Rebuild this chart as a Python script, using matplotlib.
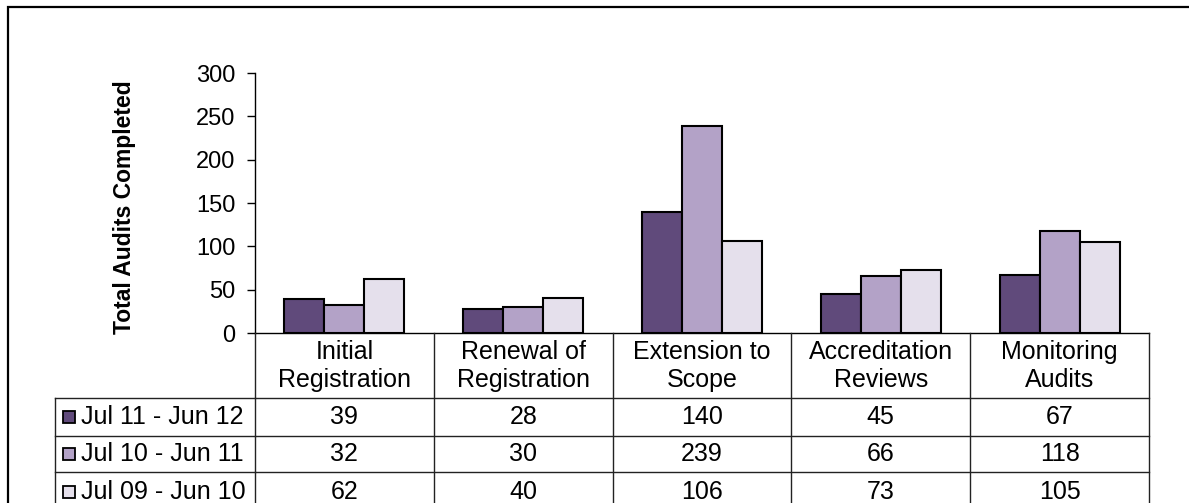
import matplotlib.pyplot as plt
import matplotlib.transforms as mtransforms
from matplotlib.patches import Rectangle
from matplotlib.lines import Line2D
import numpy as np

# ── data ────────────────────────────────────────────────
categories = ["Initial\nRegistration", "Renewal of\nRegistration", "Extension to\nScope",
              "Accreditation\nReviews", "Monitoring\nAudits"]
series_names = ["Jul 11 - Jun 12", "Jul 10 - Jun 11", "Jul 09 - Jun 10"]
jul11_jun12 = [39, 28, 140, 45, 67]
jul10_jun11 = [32, 30, 239, 66, 118]
jul09_jun10 = [62, 40, 106, 73, 105]
series_values = [jul11_jun12, jul10_jun11, jul09_jun10]
colors = ["#604A7B", "#B3A2C7", "#E5E0EC"]
y_ticks = [0, 50, 100, 150, 200, 250, 300]

plt.rcParams["font.family"] = ["Liberation Sans", "DejaVu Sans"]
FS = 17      # axis ticks
TFS = 18     # table text

W, H = 1189, 503
fig = plt.figure(figsize=(W / 100, H / 100), dpi=100)


def fx(p):
    return p / W


def fy(p):
    return 1 - p / H


# outer frame (chart area border)
fig.patches.append(Rectangle((fx(8), -0.1), 1.2, fy(7) + 0.1, transform=fig.transFigure,
                             fill=False, edgecolor="black", linewidth=1.6))

ax = fig.add_axes([fx(255), fy(333), fx(1149) - fx(255), fy(73) - fy(333)])
n = len(categories)
x = np.arange(n)
bw = 40 / 178.8
for k, (vals, col) in enumerate(zip(series_values, colors)):
    ax.bar(x + (k - 1) * bw, vals, width=bw, color=col, edgecolor="black", linewidth=1.5)

ax.set_xlim(-0.5, n - 0.5)
ax.set_ylim(0, 300)
ax.set_yticks(y_ticks)
ax.tick_params(axis="y", direction="out", length=6, width=1, labelsize=FS, pad=8)
ax.set_xticks([])
ax.spines["top"].set_visible(False)
ax.spines["right"].set_visible(False)
ax.spines["left"].set_linewidth(1)
ax.spines["bottom"].set_linewidth(1)
fig.text(fx(125), fy(207), "Total Audits Completed", rotation=90, ha="center", va="center",
         fontsize=16.5, fontweight="bold")

# ── data table ─────────────────────────────────────────
tr = mtransforms.blended_transform_factory(ax.transData, fig.transFigure)
row_edges = [333, 398, 436, 472, 512]
lc = "#222222"
lw = 1.0
xl, xr = -0.5, n - 0.5

# horizontal lines inside the category columns
for p in row_edges[1:]:
    fig.lines.append(Line2D([xl, xr], [fy(p), fy(p)], transform=tr, color=lc, lw=lw))
# legend column lines
for p in row_edges[1:]:
    fig.lines.append(Line2D([fx(55), fx(255)], [fy(p), fy(p)], transform=fig.transFigure,
                            color=lc, lw=lw))
fig.lines.append(Line2D([fx(55), fx(55)], [fy(row_edges[1]), fy(row_edges[-1])],
                        transform=fig.transFigure, color=lc, lw=lw))
# vertical separators
for i in range(n + 1):
    fig.lines.append(Line2D([i - 0.5, i - 0.5], [fy(333), fy(row_edges[-1])], transform=tr,
                            color=lc, lw=lw))

# header text
for i, cat in enumerate(categories):
    fig.text(i, fy(366), cat, transform=tr, ha="center", va="center", fontsize=TFS,
             linespacing=1.25)

# rows
for r, (name, vals, col) in enumerate(zip(series_names, series_values, colors)):
    yc = fy((row_edges[r + 1] + row_edges[r + 2]) / 2)
    fig.patches.append(Rectangle((fx(63), yc - 6 / H), 12 / W, 12 / H, transform=fig.transFigure,
                                 facecolor=col, edgecolor="black", linewidth=1.3))
    fig.text(fx(81), yc, name, ha="left", va="center", fontsize=TFS)
    for i, v in enumerate(vals):
        fig.text(i, yc, str(v), transform=tr, ha="center", va="center", fontsize=TFS)

fig.savefig("out.png", dpi=100)
